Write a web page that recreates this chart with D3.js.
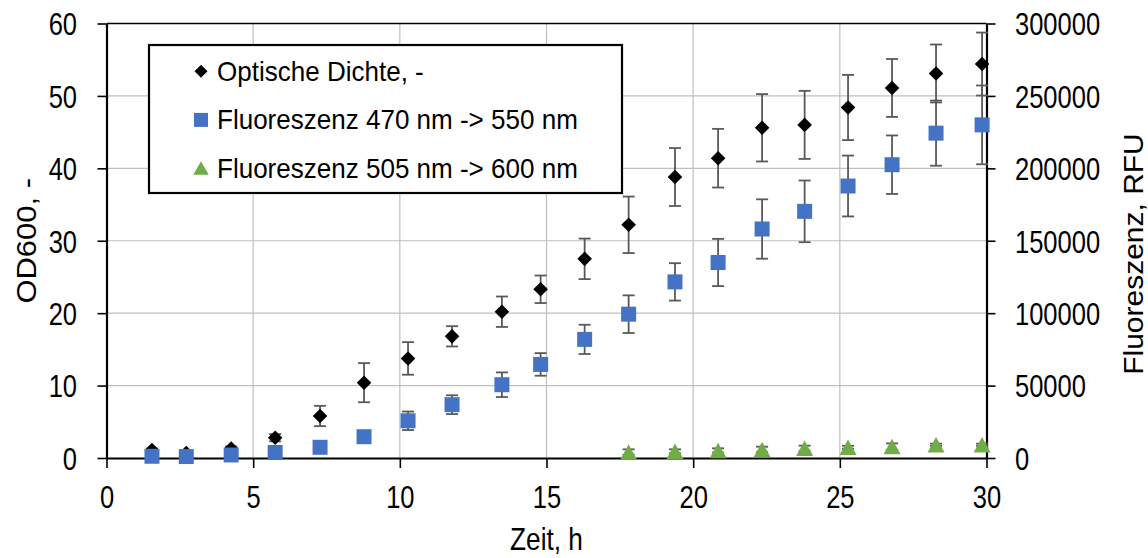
<!DOCTYPE html>
<html>
<head>
<meta charset="utf-8">
<script src="https://cdn.jsdelivr.net/npm/d3@7"></script>
<style>
  html, body { margin: 0; padding: 0; background: #fff; }
  svg { display: block; font-family: "Liberation Sans", Arial, sans-serif; }
</style>
</head>
<body>
<svg id="chart" width="1148" height="558"></svg>
<script>
// Cultivation time, h
const time = [1.55, 2.72, 4.25, 5.75, 7.28, 8.78, 10.28, 11.78, 13.48, 14.8,
              16.3, 17.8, 19.38, 20.85, 22.35, 23.8, 25.28, 26.78, 28.28, 29.85];
// Optical density OD600 (left axis) with standard deviation
const od    = [1.1, 0.7, 1.3, 2.8, 5.8, 10.4, 13.75, 16.8, 20.2, 23.3,
               27.5, 32.2, 38.8, 41.4, 45.6, 46.0, 48.4, 51.1, 53.1, 54.4];
const odErr = [0.2, 0.2, 0.3, 0.5, 1.4, 2.7, 2.25, 1.4, 2.1, 1.9,
               2.8, 3.9, 4.0, 4.05, 4.65, 4.7, 4.5, 4.0, 4.0, 4.35];
// Fluorescence 470 nm -> 550 nm, RFU (right axis)
const fl470    = [1200, 1000, 2100, 3800, 7400, 14700, 25700, 36800, 50600, 64600,
                  81900, 99300, 121600, 135000, 158100, 170300, 187800, 202500, 224300, 230000];
const fl470Err = [300, 300, 500, 800, 1500, 2500, 6400, 6500, 8500, 7800,
                  10100, 13000, 12900, 16300, 20500, 21300, 21000, 20200, 22500, 27200];
// Fluorescence 505 nm -> 600 nm, RFU (right axis), measured from 17.8 h on
const fl505    = [null, null, null, null, null, null, null, null, null, null,
                  null, 4100, 4600, 5200, 5900, 6700, 7400, 7900, 9100, 9100];
const fl505Err = [null, null, null, null, null, null, null, null, null, null,
                  null, 1900, 1400, 1500, 1900, 1800, 1000, 2200, 800, 800];

const xTicks  = [0, 5, 10, 15, 20, 25, 30];
const yTicks  = [0, 10, 20, 30, 40, 50, 60];
const y2Ticks = [0, 50000, 100000, 150000, 200000, 250000, 300000];

const seriesNames = ["Optische Dichte, -", "Fluoreszenz 470 nm -> 550 nm", "Fluoreszenz 505 nm -> 600 nm"];
const xTitle = "Zeit, h", yTitle = "OD600, -", y2Title = "Fluoreszenz, RFU";

const C_OD = "#000000", C_470 = "#4472C4", C_505 = "#70AD47", C_ERR = "#595959", C_GRID = "#bfbfbf";

const svg = d3.select("#chart");
const L = 106.5, R = 986.5, T = 23.5, B = 458;

const x  = d3.scaleLinear().domain([0, 30]).range([L, R]);
const y  = d3.scaleLinear().domain([0, 60]).range([B, T]);
const y2 = d3.scaleLinear().domain([0, 300000]).range([B, T]);

// gridlines
const grid = svg.append("g");
grid.selectAll("line.v").data(xTicks.slice(1, -1)).join("line")
  .attr("x1", d => x(d)).attr("x2", d => x(d)).attr("y1", T).attr("y2", B)
  .attr("stroke", C_GRID).attr("stroke-width", 1.2);
grid.selectAll("line.h").data(yTicks.slice(1, -1)).join("line")
  .attr("x1", L).attr("x2", R).attr("y1", d => y(d)).attr("y2", d => y(d))
  .attr("stroke", C_GRID).attr("stroke-width", 1.2);
// top frame line
svg.append("line").attr("x1", L).attr("x2", R).attr("y1", T).attr("y2", T)
  .attr("stroke", "#000").attr("stroke-width", 1.5);

// axes
function styleAxis(g) {
  g.select(".domain").attr("stroke", "#000").attr("stroke-width", 2.2);
  g.selectAll(".tick line").attr("stroke", "#000").attr("stroke-width", 1.6);
  g.selectAll(".tick text").attr("fill", "#000").attr("font-size", 31.5);
}
const TICK_SX = 0.81;

const gx = svg.append("g").attr("transform", `translate(0,${B})`)
  .call(d3.axisBottom(x).tickValues(xTicks).tickSize(10).tickSizeOuter(0).tickFormat(d3.format("d")));
styleAxis(gx);
gx.selectAll(".tick text").attr("y", 0).attr("dy", 0)
  .attr("transform", `translate(0,50) scale(${TICK_SX},1)`);

const gy = svg.append("g").attr("transform", `translate(${L},0)`)
  .call(d3.axisLeft(y).tickValues(yTicks).tickSize(9).tickSizeOuter(0).tickFormat(d3.format("d")));
styleAxis(gy);
gy.selectAll(".tick text").attr("x", 0).attr("dy", "0.36em")
  .attr("transform", `translate(-29.5,0) scale(${TICK_SX},1)`);

const gy2 = svg.append("g").attr("transform", `translate(${R},0)`)
  .call(d3.axisRight(y2).tickValues(y2Ticks).tickSize(9).tickSizeOuter(0).tickFormat(d3.format("d")));
styleAxis(gy2);
gy2.selectAll(".tick text").attr("x", 0).attr("dy", "0.36em")
  .attr("transform", `translate(28.5,0) scale(${TICK_SX},1)`);

// axis titles
svg.append("text").attr("transform", `translate(${(L + R) / 2},550) scale(0.82,1)`)
  .attr("text-anchor", "middle").attr("font-size", 32).text(xTitle);
svg.append("text").attr("transform", `translate(36,${(T + B) / 2}) rotate(-90) scale(1,0.9)`)
  .attr("text-anchor", "middle").attr("font-size", 31).text(yTitle);
svg.append("text").attr("transform", `translate(1143,254) rotate(-90) scale(1,0.9)`)
  .attr("text-anchor", "middle").attr("font-size", 30).text(y2Title);

// marker shapes, centred on their bounding box
const diamond  = (s) => `M0,${-s}L${s},0L0,${s}L${-s},0Z`;
const square   = (s) => `M${-s},${-s}H${s}V${s}H${-s}Z`;
const triangle = (w, h) => `M0,${-h / 2}L${w / 2},${h / 2}L${-w / 2},${h / 2}Z`;

function drawSeries(vals, errs, scale, color, path) {
  const pts = time.map((t, i) => ({ t, v: vals[i], e: errs[i] })).filter(d => d.v != null);
  const g = svg.append("g");
  const eb = g.append("g").attr("stroke", C_ERR).attr("stroke-width", 1.8).attr("fill", "none");
  const cap = 6;
  pts.forEach(d => {
    const cx = x(d.t), y1 = scale(d.v + d.e), y0 = scale(d.v - d.e);
    eb.append("line").attr("x1", cx).attr("x2", cx).attr("y1", y1).attr("y2", y0);
    eb.append("line").attr("x1", cx - cap).attr("x2", cx + cap).attr("y1", y1).attr("y2", y1);
    eb.append("line").attr("x1", cx - cap).attr("x2", cx + cap).attr("y1", y0).attr("y2", y0);
  });
  g.selectAll("path.m").data(pts).join("path")
    .attr("d", path)
    .attr("transform", d => `translate(${x(d.t)},${scale(d.v)})`)
    .attr("fill", color);
}

drawSeries(od, odErr, y, C_OD, diamond(7.3));
drawSeries(fl470, fl470Err, y2, C_470, square(7.5));
drawSeries(fl505, fl505Err, y2, C_505, triangle(17, 15.5));

// legend
const lg = svg.append("g");
lg.append("rect").attr("x", 149).attr("y", 45).attr("width", 473).attr("height", 148)
  .attr("fill", "#fff").attr("stroke", "#000").attr("stroke-width", 2.2);
const legendItems = [
  { name: seriesNames[0], color: C_OD, path: diamond(6.5) },
  { name: seriesNames[1], color: C_470, path: square(7) },
  { name: seriesNames[2], color: C_505, path: triangle(15.5, 13.5) }
];
const legendBase = [80.7, 129.4, 177.5];
legendItems.forEach((it, i) => {
  lg.append("path").attr("d", it.path)
    .attr("transform", `translate(201,${legendBase[i] - 9.5})`).attr("fill", it.color);
  lg.append("text").attr("transform", `translate(217,${legendBase[i]}) scale(0.93,1)`)
    .attr("font-size", 28).attr("fill", "#000").text(it.name);
});
</script>
</body>
</html>
